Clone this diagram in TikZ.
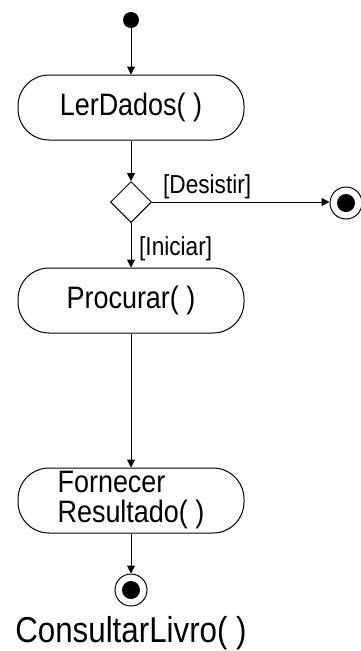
\documentclass[tikz,border=0pt]{standalone}
\usepackage{fontspec}
\setmainfont{Liberation Sans}
\newfontfamily\umlfont[FakeStretch=0.87]{Liberation Sans}
\usetikzlibrary{%
    arrows.meta,%
    shapes.geometric,%
    positioning%
}

\begin{document}
\begin{tikzpicture}[
    x=1pt,y=-1pt,
    activity/.style={draw,line width=1pt,rectangle,rounded corners=31pt,
        minimum width=226pt,minimum height=65pt,inner sep=0pt,align=left,
        font={\umlfont\fontsize{31}{30}\selectfont}},
    choicebox/.style={draw,line width=1pt,diamond,aspect=1,inner sep=0pt,
        minimum width=41pt,minimum height=41pt},
    initial/.style={circle,fill,inner sep=0pt,minimum size=16pt},
    final/.style={circle,draw,line width=1pt,inner sep=0pt,minimum size=32pt,
        path picture={\fill (path picture bounding box.center) circle (9pt);}},
    guard/.style={inner sep=0pt,font={\umlfont\fontsize{26}{28}\selectfont}},
    flow/.style={line width=1pt,-{Triangle[length=8pt,width=8pt]}},
    ]

    % Page frame
    \useasboundingbox (0,0) rectangle (360,651);

    % Nodes
    \node[initial] (start) at (131,20) {};
    \node[activity] (ler) at (131,107.5) {LerDados( )};
    \node[choicebox] (choice) at (131,202) {};
    \node[final] (desist) at (346,203) {};
    \node[activity] (proc) at (131,300.5) {Procurar( )};
    \node[activity] (forn) at (131,500.5) {Fornecer\\Resultado( )};
    \node[final] (fim) at (131,590) {};
    \node[below=10pt of fim,inner sep=0pt,
        font={\umlfont\fontsize{36}{40}\selectfont}] (nome) {ConsultarLivro( )};

    % Guards
    \node[guard,above right=3pt and 11pt of choice.east] (gdesist) {[Desistir]};
    \node[guard,above right=6pt and 8pt of proc.north] (giniciar) {[Iniciar]};

    % Flows
    \draw[flow] (start) -- (ler);
    \draw[flow] (ler) -- (choice);
    \draw[flow] (choice.east) -- (choice.east -| desist.west);
    \draw[flow] (choice) -- (proc);
    \draw[flow] (proc) -- (forn);
    \draw[flow] (forn) -- (fim);
\end{tikzpicture}
\end{document}
